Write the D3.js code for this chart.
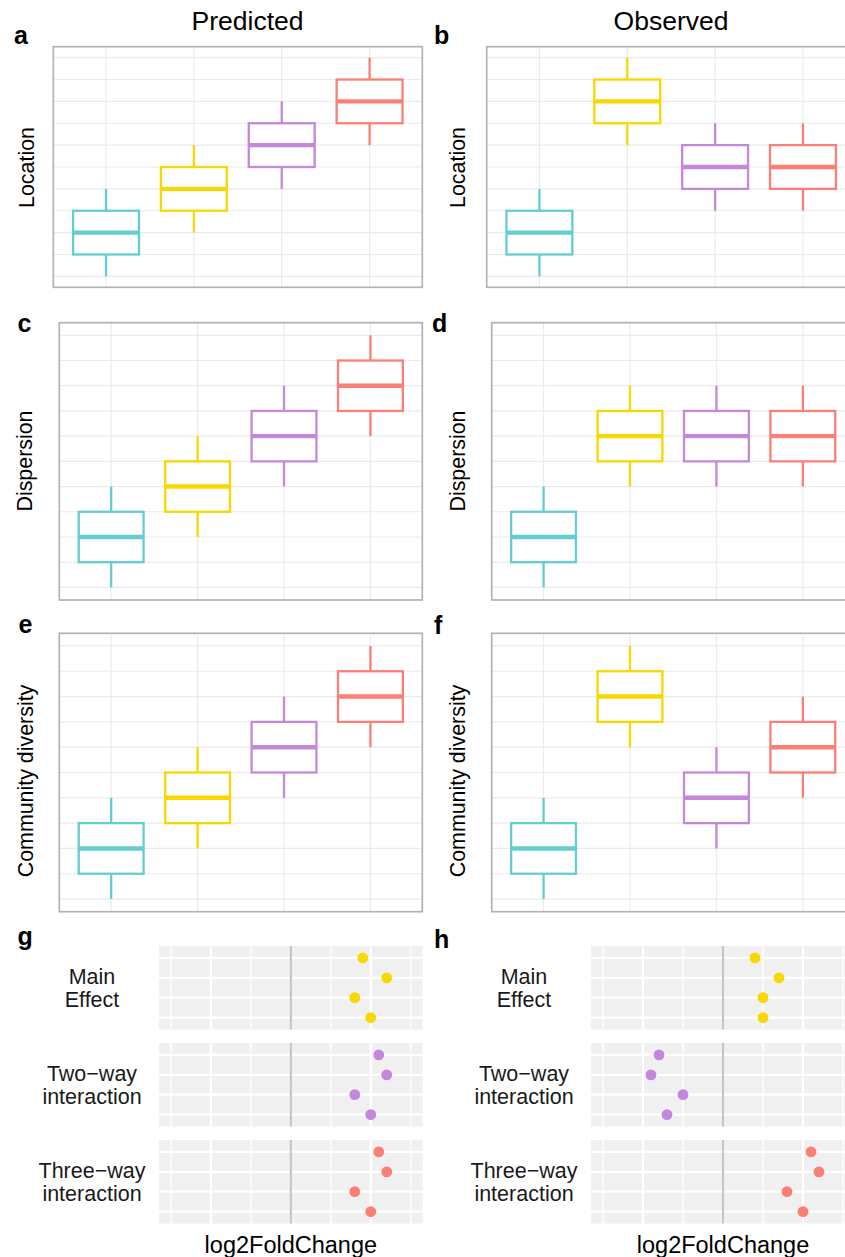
<!DOCTYPE html>
<html>
<head>
<meta charset="utf-8">
<script src="https://cdn.jsdelivr.net/npm/d3@7"></script>
<style>
  body { margin: 0; background: #fff; }
  text { font-family: "Liberation Sans", Arial, sans-serif; }
</style>
</head>
<body>
<div id="chart"></div>
<script>
// groups and colours
const groups = ["Control", "Main effect", "Two-way", "Three-way"];
const groupColors = ["#63cdd2", "#f9d700", "#c387db", "#fb7f74"];

// five-number summaries per group: [min, q1, median, q3, max]
const predLocation   = [[0, 1, 2, 3, 4], [2, 3, 4, 5, 6], [4, 5, 6, 7, 8], [6, 7, 8, 9, 10]];
const obsLocation    = [[0, 1, 2, 3, 4], [6, 7, 8, 9, 10], [3, 4, 5, 6, 7], [3, 4, 5, 6, 7]];
const predDispersion = [[0, 1, 2, 3, 4], [2, 3, 4, 5, 6], [4, 5, 6, 7, 8], [6, 7, 8, 9, 10]];
const obsDispersion  = [[0, 1, 2, 3, 4], [4, 5, 6, 7, 8], [4, 5, 6, 7, 8], [4, 5, 6, 7, 8]];
const predDiversity  = [[0, 1, 2, 3, 4], [2, 3, 4, 5, 6], [4, 5, 6, 7, 8], [6, 7, 8, 9, 10]];
const obsDiversity   = [[0, 1, 2, 3, 4], [6, 7, 8, 9, 10], [2, 3, 4, 5, 6], [4, 5, 6, 7, 8]];

// log2 fold changes (4 taxa per facet)
const facetLabels = [["Main", "Effect"], ["Two\u2212way", "interaction"], ["Three\u2212way", "interaction"]];
const taxa = ["t1", "t2", "t3", "t4"];
const predMain  = [1.8, 2.4, 1.6, 2.0];
const predTwo   = [2.2, 2.4, 1.6, 2.0];
const predThree = [2.2, 2.4, 1.6, 2.0];
const obsMain   = [0.8, 1.4, 1.0, 1.0];
const obsTwo    = [-1.6, -1.8, -1.0, -1.4];
const obsThree  = [2.2, 2.4, 1.6, 2.0];

const W = 845, H = 1257;
const svg = d3.select("#chart").append("svg")
    .attr("width", W)
    .attr("height", H);

svg.append("rect").attr("width", W).attr("height", H).attr("fill", "#fff");

// column titles
svg.append("text").attr("x", 247.5).attr("y", 29.5).attr("text-anchor", "middle")
    .style("font-size", "26.5px").text("Predicted");
svg.append("text").attr("x", 671).attr("y", 29.5).attr("text-anchor", "middle")
    .style("font-size", "26.5px").text("Observed");

function panelLetter(x, y, t) {
    svg.append("text").attr("x", x).attr("y", y)
        .style("font-size", "25px").style("font-weight", "bold").text(t);
}

function yTitle(x, y, t) {
    svg.append("text")
        .attr("transform", `translate(${x},${y}) rotate(-90)`)
        .attr("text-anchor", "middle")
        .style("font-size", "21.4px")
        .text(t);
}

function boxPanel(left, top, width, height, data) {
    const g = svg.append("g");
    const x = d3.scalePoint().domain(groups).range([left, left + width]).padding(0.6);
    const y = d3.scaleLinear().domain([-0.5, 10.5]).range([top + height, top]);
    const bw = x.step() * 0.75;

    // grid
    g.selectAll(".hg").data(d3.range(0, 11)).enter().append("line")
        .attr("x1", left).attr("x2", left + width)
        .attr("y1", d => y(d)).attr("y2", d => y(d))
        .attr("stroke", "#ebebeb").attr("stroke-width", 1.2);
    g.selectAll(".vg").data(groups).enter().append("line")
        .attr("x1", d => x(d)).attr("x2", d => x(d))
        .attr("y1", top).attr("y2", top + height)
        .attr("stroke", "#ebebeb").attr("stroke-width", 1.2);

    const box = g.selectAll(".box").data(data).enter().append("g");
    box.append("line")
        .attr("x1", (d, i) => x(groups[i])).attr("x2", (d, i) => x(groups[i]))
        .attr("y1", d => y(d[0])).attr("y2", d => y(d[1]))
        .attr("stroke", (d, i) => groupColors[i]).attr("stroke-width", 2.3);
    box.append("line")
        .attr("x1", (d, i) => x(groups[i])).attr("x2", (d, i) => x(groups[i]))
        .attr("y1", d => y(d[3])).attr("y2", d => y(d[4]))
        .attr("stroke", (d, i) => groupColors[i]).attr("stroke-width", 2.3);
    box.append("rect")
        .attr("x", (d, i) => x(groups[i]) - bw / 2)
        .attr("y", d => y(d[3]))
        .attr("width", bw)
        .attr("height", d => y(d[1]) - y(d[3]))
        .attr("fill", "#fff")
        .attr("stroke", (d, i) => groupColors[i]).attr("stroke-width", 2.3);
    box.append("line")
        .attr("x1", (d, i) => x(groups[i]) - bw / 2).attr("x2", (d, i) => x(groups[i]) + bw / 2)
        .attr("y1", d => y(d[2])).attr("y2", d => y(d[2]))
        .attr("stroke", (d, i) => groupColors[i]).attr("stroke-width", 4.4);

    g.append("rect").attr("x", left).attr("y", top).attr("width", width).attr("height", height)
        .attr("fill", "none").attr("stroke", "#b3b3b3").attr("stroke-width", 1.7);
}

boxPanel(53.3, 46.7, 369, 240.6, predLocation);
boxPanel(486.7, 46.7, 369, 240.6, obsLocation);
boxPanel(59.3, 322.7, 363, 277.3, predDispersion);
boxPanel(491.7, 322.7, 363, 277.3, obsDispersion);
boxPanel(59.3, 633.3, 363, 278.4, predDiversity);
boxPanel(491.7, 633.3, 363, 278.4, obsDiversity);

panelLetter(14, 44.3, "a");
panelLetter(434, 44.3, "b");
panelLetter(17.5, 332.3, "c");
panelLetter(432, 332.3, "d");
panelLetter(18.5, 633.3, "e");
panelLetter(434, 634.3, "f");
panelLetter(17.5, 945, "g");
panelLetter(434, 948.3, "h");

yTitle(33.6, 167.5, "Location");
yTitle(465.3, 167.5, "Location");
yTitle(32, 461, "Dispersion");
yTitle(464.6, 461, "Dispersion");
yTitle(32.8, 781, "Community diversity");
yTitle(464.8, 781, "Community diversity");

// log2FoldChange dot panels
const facetTops = [946, 1043, 1140];
const facetH = 83.5;

function dotPanel(left, width, series, labelX) {
    const x = d3.scaleLinear().domain([-3.3, 3.3]).range([left, left + width]);
    series.forEach((vals, f) => {
        const top = facetTops[f];
        const y = d3.scalePoint().domain(taxa).range([top, top + facetH]).padding(0.6);
        const g = svg.append("g");
        g.append("rect").attr("x", left).attr("y", top).attr("width", width).attr("height", facetH)
            .attr("fill", "#f0f0f0");
        // minor grid
        g.selectAll(".mn").data([-3, -1, 1, 3]).enter().append("line")
            .attr("x1", d => x(d)).attr("x2", d => x(d))
            .attr("y1", top).attr("y2", top + facetH)
            .attr("stroke", "#fff").attr("stroke-width", 1.4);
        g.selectAll(".mj").data([-2, 0, 2]).enter().append("line")
            .attr("x1", d => x(d)).attr("x2", d => x(d))
            .attr("y1", top).attr("y2", top + facetH)
            .attr("stroke", "#fff").attr("stroke-width", 2.2);
        g.selectAll(".hz").data(taxa).enter().append("line")
            .attr("x1", left).attr("x2", left + width)
            .attr("y1", d => y(d)).attr("y2", d => y(d))
            .attr("stroke", "#fff").attr("stroke-width", 2.2);
        g.append("line")
            .attr("x1", x(0)).attr("x2", x(0))
            .attr("y1", top).attr("y2", top + facetH)
            .attr("stroke", "#c6c6c6").attr("stroke-width", 2.2);
        g.selectAll("circle").data(vals).enter().append("circle")
            .attr("cx", d => x(d))
            .attr("cy", (d, i) => y(taxa[i]))
            .attr("r", 5.4)
            .attr("fill", groupColors[f + 1]);

        const cy = top + facetH / 2;
        const lbl = svg.append("text").attr("text-anchor", "middle")
            .style("font-size", "21.5px").attr("fill", "#1a1a1a");
        lbl.append("tspan").attr("x", labelX).attr("y", cy - 3.7).text(facetLabels[f][0]);
        lbl.append("tspan").attr("x", labelX).attr("y", cy + 19.5).text(facetLabels[f][1]);
    });
    svg.append("text").attr("x", x(0)).attr("y", 1252.5).attr("text-anchor", "middle")
        .style("font-size", "23.5px").text("log2FoldChange");
}

dotPanel(159, 263.7, [predMain, predTwo, predThree], 92);
dotPanel(591, 264, [obsMain, obsTwo, obsThree], 524);
</script>
</body>
</html>
